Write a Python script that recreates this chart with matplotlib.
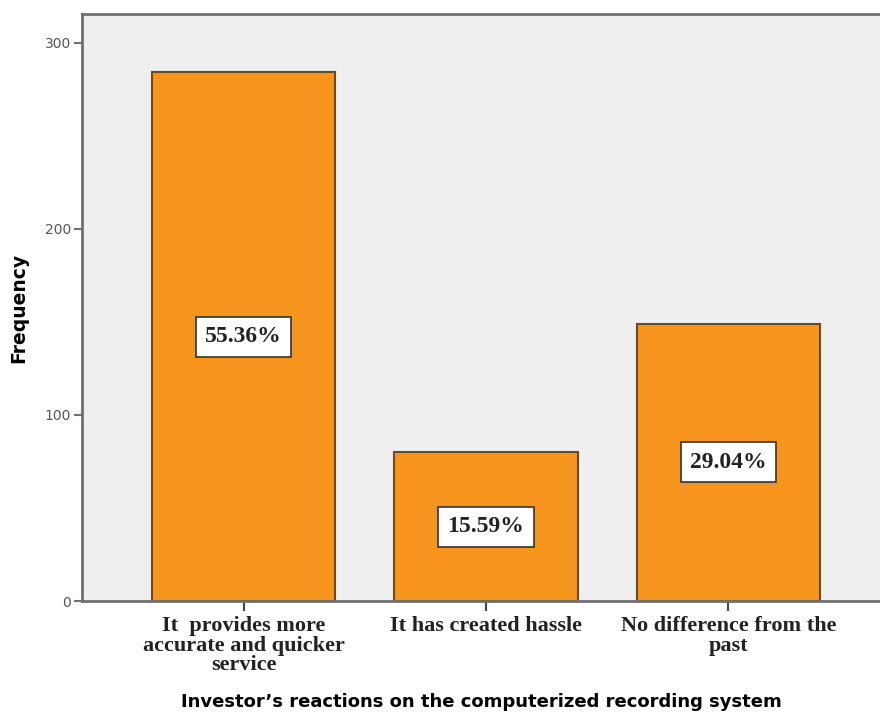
import numpy as np
import matplotlib
matplotlib.use("Agg")
import matplotlib.pyplot as plt

# data
categories = [
    "It  provides more\naccurate and quicker\nservice",
    "It has created hassle",
    "No difference from the\npast",
]
frequency = [284, 80, 149]
y_ticks = [0, 100, 200, 300]

total = sum(frequency)
percent_labels = [f"{f / total * 100:.2f}%" for f in frequency]

bar_color = "#F7961E"
edge_color = "#6B4A20"
bg_color = "#EFEFEF"
spine_color = "#707070"

fig = plt.figure(figsize=(8.8, 7.15), dpi=100)
ax = fig.add_axes([0.0932, 0.1594, 0.9068, 0.8210])
ax.set_facecolor(bg_color)

x = np.arange(len(categories))
bars = ax.bar(x, frequency, width=0.755, color=bar_color,
              edgecolor=edge_color, linewidth=1.5, zorder=2)

# percentage boxes in the middle of each bar
for rect, label in zip(bars, percent_labels):
    cx = rect.get_x() + rect.get_width() / 2
    cy = rect.get_height() / 2
    ax.text(cx, cy, label, ha="center", va="center",
            fontsize=17, fontweight="bold", family="Liberation Serif",
            color="#222222", zorder=3,
            bbox=dict(boxstyle="square,pad=0.4", facecolor="white",
                      edgecolor="#333333", linewidth=1.2))

ax.set_xlim(-0.666, 2.625)
ax.set_ylim(0, 315.4)

ax.set_yticks(y_ticks)
ax.set_yticklabels([str(t) for t in y_ticks], fontsize=10, color="#555555")
ax.tick_params(axis="y", direction="out", length=6, width=1.5,
               color=spine_color, pad=2)

ax.set_xticks(x)
ax.set_xticklabels(categories, fontsize=16, fontweight="bold",
                   family="Liberation Serif", color="#222222",
                   linespacing=0.97)
ax.tick_params(axis="x", direction="out", length=7, width=1.5,
               color="#444444", pad=4)

for side in ["left", "bottom", "top"]:
    ax.spines[side].set_color(spine_color)
    ax.spines[side].set_linewidth(2)
ax.spines["right"].set_visible(False)

ax.set_ylabel("Frequency", fontsize=13.5, fontweight="bold", labelpad=12)
ax.set_xlabel("Investor\u2019s reactions on the computerized recording system",
              fontsize=13, fontweight="bold", labelpad=13)

fig.savefig("out.png", dpi=100, facecolor="white")
